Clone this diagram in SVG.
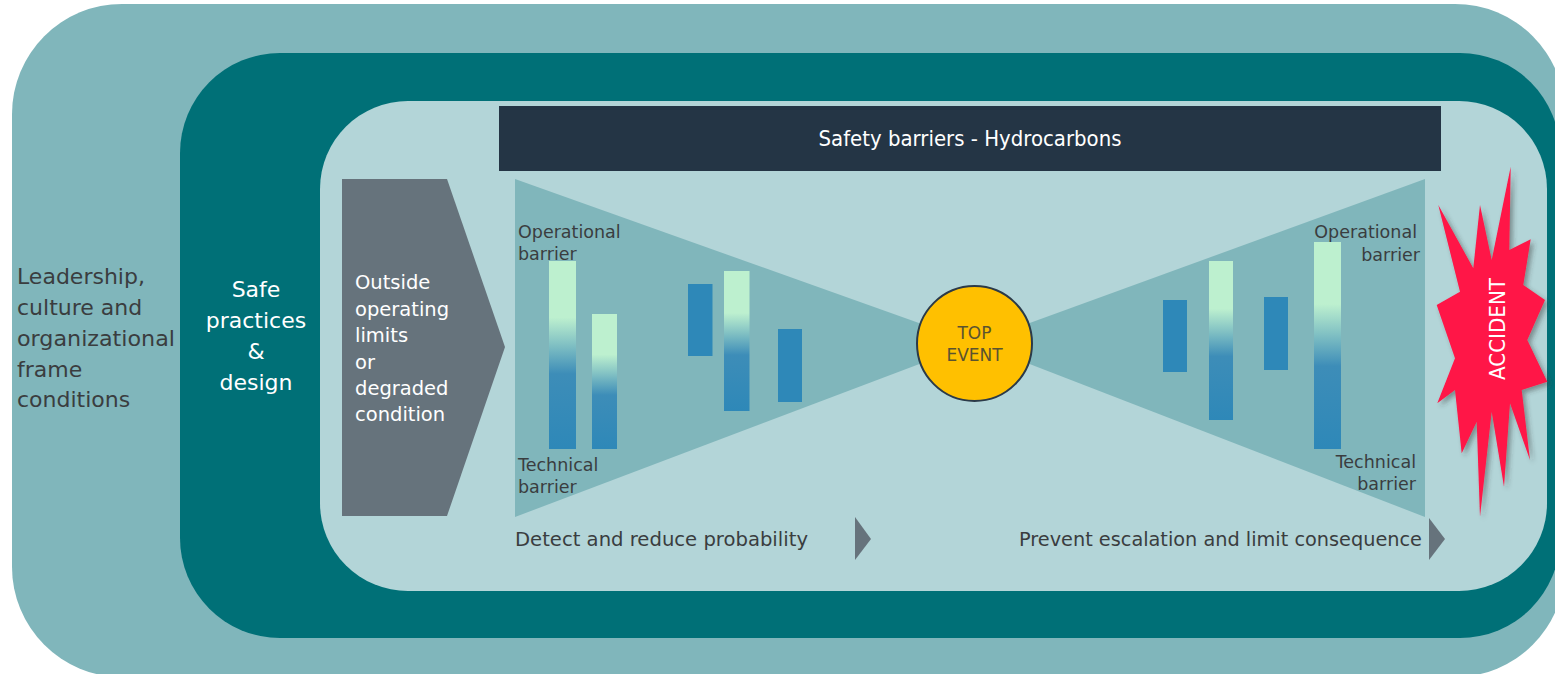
<svg xmlns="http://www.w3.org/2000/svg" width="1555" height="674" viewBox="0 0 1555 674">
  <defs>
    <style>
      text { font-family: "DejaVu Sans", "Liberation Sans", sans-serif; }
      .dark { fill: #3a3d3f; }
      .white { fill: #ffffff; }
      .lbl { font-size: 17.5px; fill: #3a3d3f; }
      .big { font-size: 22px; }
      .mid { font-size: 19.5px; }
      .solid { fill: #2e88b8; }
      .grad { fill: url(#barGrad); }
      .tri { fill: #80b6bb; }
      .arrowhead { fill: #66737c; }
    </style>
    <linearGradient id="barGrad" x1="0" y1="0" x2="0" y2="1">
      <stop offset="0" stop-color="#bdf0cf"/>
      <stop offset="0.3" stop-color="#bdf0cf"/>
      <stop offset="0.45" stop-color="#7fbfc3"/>
      <stop offset="0.6" stop-color="#3d8db8"/>
      <stop offset="1" stop-color="#2e88b8"/>
    </linearGradient>
    <filter id="shadow" x="-30%" y="-10%" width="160%" height="120%">
      <feDropShadow dx="3" dy="3" stdDeviation="2.5" flood-color="#333" flood-opacity="0.45"/>
    </filter>
  </defs>

  <rect width="1555" height="674" fill="#ffffff"/>

  <g id="frame-leadership">
    <rect x="12" y="4" width="1553" height="673" rx="110" ry="110" fill="#80b6bb"/>
    <text class="dark big" x="17" y="284">Leadership,</text>
    <text class="dark big" x="17" y="315">culture and</text>
    <text class="dark big" x="17" y="346" textLength="158" lengthAdjust="spacingAndGlyphs">organizational</text>
    <text class="dark big" x="17" y="377">frame</text>
    <text class="dark big" x="17" y="407">conditions</text>
  </g>

  <g id="frame-safe-practices">
    <rect x="180" y="53" width="1380" height="585" rx="100" ry="100" fill="#007077"/>
    <text class="white big" x="256" y="297" text-anchor="middle">Safe</text>
    <text class="white big" x="256" y="328" text-anchor="middle">practices</text>
    <text class="white big" x="256" y="359" text-anchor="middle">&amp;</text>
    <text class="white big" x="256" y="390" text-anchor="middle">design</text>
  </g>

  <g id="frame-inner">
    <rect x="320" y="101" width="1227" height="490" rx="88" ry="88" fill="#b3d5d8"/>
  </g>

  <g id="header">
    <rect x="499" y="106" width="942" height="65" fill="#243545"/>
    <text class="white" x="970" y="146" text-anchor="middle" font-size="20.5" textLength="303" lengthAdjust="spacingAndGlyphs">Safety barriers - Hydrocarbons</text>
  </g>

  <g id="degraded-condition">
    <polygon points="342,179 447,179 505,347 447,516 342,516" fill="#66737c"/>
    <text class="white mid" x="355" y="289">Outside</text>
    <text class="white mid" x="355" y="316">operating</text>
    <text class="white mid" x="355" y="342">limits</text>
    <text class="white mid" x="355" y="369">or</text>
    <text class="white mid" x="355" y="395">degraded</text>
    <text class="white mid" x="355" y="421">condition</text>
  </g>

  <g id="prevention-side">
    <polygon class="tri" points="515,179 515,517 975,343"/>
    <rect class="grad" x="549" y="261" width="27" height="188"/>
    <rect class="grad" x="592" y="314" width="25" height="135"/>
    <rect class="solid" x="688" y="284" width="24.5" height="72"/>
    <rect class="grad" x="724" y="271" width="25.5" height="140"/>
    <rect class="solid" x="778" y="329" width="24" height="73"/>
    <text class="lbl" x="518" y="238">Operational</text>
    <text class="lbl" x="518" y="260">barrier</text>
    <text class="lbl" x="518" y="471">Technical</text>
    <text class="lbl" x="518" y="493">barrier</text>
  </g>

  <g id="mitigation-side">
    <polygon class="tri" points="1425,179 1425,517 975,343"/>
    <rect class="solid" x="1163" y="300" width="24" height="72"/>
    <rect class="grad" x="1209" y="261" width="24" height="159"/>
    <rect class="solid" x="1264" y="297" width="24" height="73"/>
    <rect class="grad" x="1314" y="242" width="27" height="207"/>
    <text class="lbl" x="1417" y="238" text-anchor="end">Operational</text>
    <text class="lbl" x="1420" y="261" text-anchor="end">barrier</text>
    <text class="lbl" x="1416" y="468" text-anchor="end">Technical</text>
    <text class="lbl" x="1416" y="490" text-anchor="end">barrier</text>
  </g>

  <g id="top-event">
    <circle cx="974.5" cy="343.5" r="57.5" fill="#ffc000" stroke="#2b3a48" stroke-width="2"/>
    <text x="974.5" y="339" text-anchor="middle" font-size="17" fill="#5a5330">TOP</text>
    <text x="974.5" y="361" text-anchor="middle" font-size="17" fill="#5a5330">EVENT</text>
  </g>

  <g id="accident">
    <polygon filter="url(#shadow)" fill="#ff1346" points="1510.7,166.7 1509.3,250 1530.7,239.3 1523.3,285 1545,300 1527.3,340 1547.3,381.7 1521.7,390 1530,460 1510,403.3 1504,486.7 1491.7,411.7 1480,516.7 1476.7,421.7 1461.7,453.3 1455,390 1437.3,403.3 1455,358.3 1436.7,305 1460,291.7 1438.3,205 1473.3,268.3 1480,205 1491.7,260"/>
    <text transform="translate(1505,329) rotate(-90)" text-anchor="middle" font-family="Liberation Sans, Arial, sans-serif" font-size="21" fill="#ffffff" textLength="102" lengthAdjust="spacingAndGlyphs">ACCIDENT</text>
  </g>

  <g id="phase-labels">
    <text class="dark mid" x="515" y="546" textLength="293" lengthAdjust="spacingAndGlyphs">Detect and reduce probability</text>
    <text class="dark mid" x="1019" y="546" textLength="403" lengthAdjust="spacingAndGlyphs">Prevent escalation and limit consequence</text>
  </g>

  <g id="connectors">
    <polygon class="arrowhead" points="855,517 871,539 855,560"/>
    <polygon class="arrowhead" points="1429,518 1445,539 1429,560"/>
  </g>
</svg>
